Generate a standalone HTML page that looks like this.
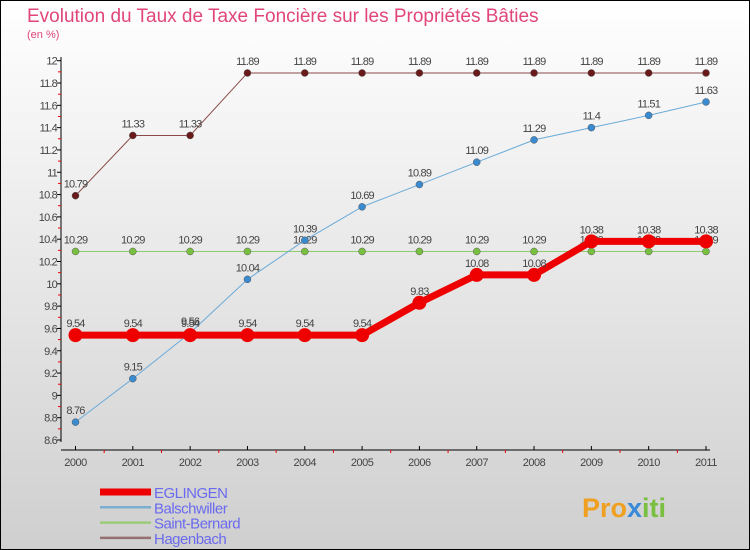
<!DOCTYPE html>
<html><head><meta charset="utf-8"><style>
body{margin:0}
svg{display:block;font-family:"Liberation Sans",sans-serif}
</style></head><body>
<svg id="c" width="750" height="550" viewBox="0 0 750 550">
<defs><linearGradient id="bg" x1="0" y1="0" x2="0" y2="1"><stop offset="0" stop-color="#ffffff"/><stop offset="1" stop-color="#cfcfcf"/></linearGradient></defs>
<rect x="0.5" y="0.5" width="749" height="549" fill="url(#bg)" stroke="#000"/>
<text x="27" y="22" font-size="19" fill="#e0457b">Evolution du Taux de Taxe Foncière sur les Propriétés Bâties</text>
<text x="27" y="38" font-size="11" fill="#e0457b">(en %)</text>
<g id="axes"></g><g id="series"></g><g id="legend"></g>
<text x="582" y="517" font-size="27" font-weight="bold" fill="#f0a020">Pro<tspan fill="#3a8ad8">x</tspan><tspan fill="#7ac040">iti</tspan></text>
</svg>
<script>
const years=[2000,2001,2002,2003,2004,2005,2006,2007,2008,2009,2010,2011];
const eglingen=[9.54,9.54,9.54,9.54,9.54,9.54,9.83,10.08,10.08,10.38,10.38,10.38];
const balschwiller=[8.76,9.15,9.56,10.04,10.39,10.69,10.89,11.09,11.29,11.4,11.51,11.63];
const saintBernard=[10.29,10.29,10.29,10.29,10.29,10.29,10.29,10.29,10.29,10.29,10.29,10.29];
const hagenbach=[10.79,11.33,11.33,11.89,11.89,11.89,11.89,11.89,11.89,11.89,11.89,11.89];
const yTicks=[8.6,8.8,9,9.2,9.4,9.6,9.8,10,10.2,10.4,10.6,10.8,11,11.2,11.4,11.6,11.8,12];
const NS="http://www.w3.org/2000/svg";
const X=i=>75.5+i*(706-75.5)/11;
const Y=v=>60.7+(12-v)*(440-60.7)/3.4;
function mk(p,t,a){const e=document.createElementNS(NS,t);for(const k in a)e.setAttribute(k,a[k]);p.appendChild(e);return e;}
const ax=document.getElementById('axes');
let l=mk(ax,'line',{x1:61,y1:57,x2:61,y2:442,stroke:'#000'});

l=mk(ax,'line',{x1:61,y1:450,x2:710,y2:450,stroke:'#000'});

yTicks.forEach((v,i)=>{
 const y=Y(v);
 mk(ax,'line',{x1:57,y1:y,x2:61,y2:y,stroke:'#000'});
 if(i<yTicks.length-1)mk(ax,'line',{x1:58,y1:(y+Y(yTicks[i+1]))/2,x2:61,y2:(y+Y(yTicks[i+1]))/2,stroke:'#e00'});
 const t=mk(ax,'text',{x:57,y:y+4,'font-size':11,fill:'#444','text-anchor':'end','letter-spacing':'-0.8'});
 t.textContent=String(v);
 
});
years.forEach((yr,i)=>{
 const x=X(i);
 mk(ax,'line',{x1:x,y1:446,x2:x,y2:450,stroke:'#000'});
 if(i<years.length-1)mk(ax,'line',{x1:(x+X(i+1))/2,y1:450,x2:(x+X(i+1))/2,y2:453,stroke:'#e00'});
 const t=mk(ax,'text',{x:x,y:466,'font-size':11,fill:'#444','text-anchor':'middle','letter-spacing':'-0.5'});
 t.textContent=yr;
 
});
const sg=document.getElementById('series');
function series(name,vals,color,w,r,dot){
 const g=mk(sg,'g',{});
 
 const p=mk(g,'polyline',{points:vals.map((v,i)=>X(i)+','+Y(v)).join(' '),fill:'none',stroke:color,'stroke-width':w});
 
 vals.forEach((v,i)=>{
  const c=mk(g,'circle',{cx:X(i),cy:Y(v),r:r,fill:dot,stroke:'#555','stroke-width':w>3?0:0.5});
  
  const t=mk(g,'text',{x:X(i),y:Y(v)-8,'font-size':11,fill:'#444','text-anchor':'middle','letter-spacing':'-0.8'});
  t.textContent=String(v);
  
 });
}
series('saint-bernard',saintBernard,'#8ccc6a',1,3.5,'#7ac040');
series('hagenbach',hagenbach,'#8a4a4a',1,3.5,'#6a1a1a');
series('balschwiller',balschwiller,'#6aaad8',1,3.5,'#3a8ad0');
series('eglingen',eglingen,'#ee0000',7,7,'#ee0000');
const lg=document.getElementById('legend');
[['EGLINGEN','#ee0000',7],['Balschwiller','#7aaed0',2.5],['Saint-Bernard','#9ccc7a',2.5],['Hagenbach','#947070',2.5]].forEach((d,i)=>{
 const y=492+i*15.3;
 const ln=mk(lg,'line',{x1:100,y1:y,x2:151,y2:y,stroke:d[1],'stroke-width':d[2]});
 
 const t=mk(lg,'text',{x:154,y:y+6,'font-size':15,fill:'#6a6aee','letter-spacing':'-0.5'});
 t.textContent=d[0];
 
});
</script>
</body></html>
